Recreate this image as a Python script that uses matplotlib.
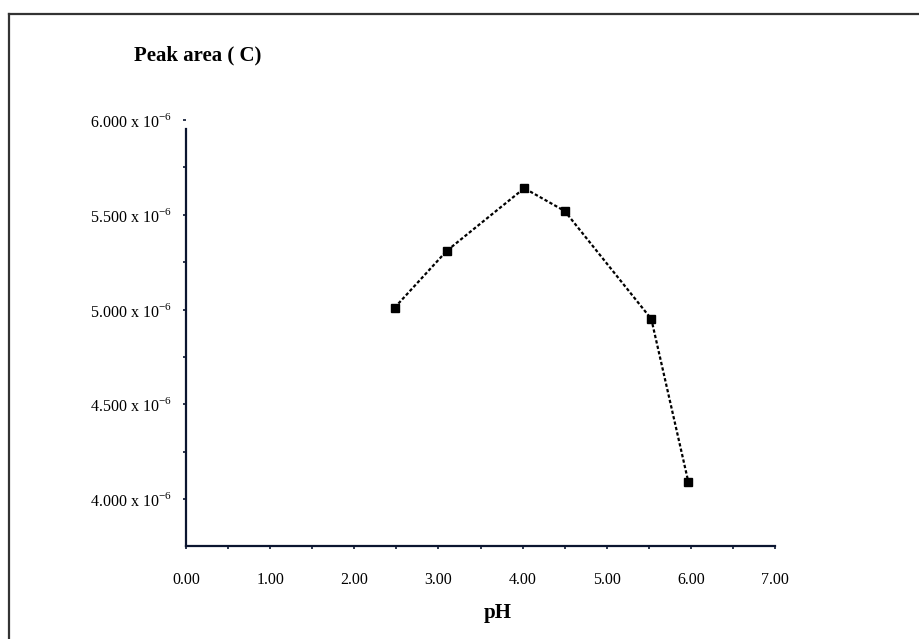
import numpy as np
import matplotlib
matplotlib.use('Agg')
import matplotlib.pyplot as plt
from matplotlib.lines import Line2D
from matplotlib.ticker import MultipleLocator, FixedLocator

plt.rcParams['font.family'] = ['Liberation Serif', 'DejaVu Serif']
plt.rcParams['mathtext.fontset'] = 'custom'
plt.rcParams['mathtext.rm'] = 'Liberation Serif'

# values
ph = [2.48, 3.10, 4.02, 4.50, 5.53, 5.97]
peak_area = [5.01e-6, 5.31e-6, 5.64e-6, 5.52e-6, 4.95e-6, 4.09e-6]

x_ticks = [0, 1, 2, 3, 4, 5, 6, 7]
y_ticks = [4.0e-6, 4.5e-6, 5.0e-6, 5.5e-6, 6.0e-6]
y_labels = ['4.000 x 10$^{-6}$', '4.500 x 10$^{-6}$', '5.000 x 10$^{-6}$',
            '5.500 x 10$^{-6}$', '6.000 x 10$^{-6}$']

W, H = 919, 639
fig = plt.figure(figsize=(W / 100, H / 100), dpi=100)
ax = fig.add_axes([186 / W, 1 - 546 / H, (775 - 186) / W, (546 - 120) / H])

ax.plot(ph, peak_area, color='black', linestyle=(0, (1.5, 1.0)), linewidth=1.6,
        marker='s', markersize=6, markerfacecolor='black', markeredgecolor='black')

ax.set_xlim(0, 7)
ax.set_ylim(3.752e-6, 6.0e-6)

spine_col = '#0b1530'
for side in ['top', 'right']:
    ax.spines[side].set_visible(False)
for side in ['left', 'bottom']:
    ax.spines[side].set_color(spine_col)
    ax.spines[side].set_linewidth(1.6)
ax.spines['left'].set_bounds(3.752e-6, 5.95e-6)

ax.xaxis.set_major_locator(FixedLocator(x_ticks))
ax.xaxis.set_minor_locator(MultipleLocator(0.5))
ax.set_xticklabels(['%.2f' % v for v in x_ticks])
ax.yaxis.set_major_locator(FixedLocator(y_ticks))
ax.yaxis.set_minor_locator(MultipleLocator(0.25e-6))
ax.set_yticklabels(y_labels)

ax.tick_params(axis='x', which='both', direction='out', length=2, width=1.2,
               color=spine_col, labelsize=11.5, pad=17)
ax.tick_params(axis='y', which='both', direction='out', length=2, width=1.2,
               color=spine_col, labelsize=11.5, pad=8)

fig.text(198 / W, 1 - 55 / H, 'Peak area ( C)', ha='center', va='center',
         fontsize=15, fontweight='bold')
fig.text(498 / W, 1 - 613 / H, 'pH', ha='center', va='center',
         fontsize=15, fontweight='bold')

# frame round the picture (left and top only)
fig.add_artist(Line2D([9 / W, 9 / W], [0, 1 - 14 / H], transform=fig.transFigure,
                      color='#333333', linewidth=1.6))
fig.add_artist(Line2D([9 / W, 1], [1 - 14 / H, 1 - 14 / H], transform=fig.transFigure,
                      color='#333333', linewidth=1.6))

fig.savefig('out.png', dpi=100)
